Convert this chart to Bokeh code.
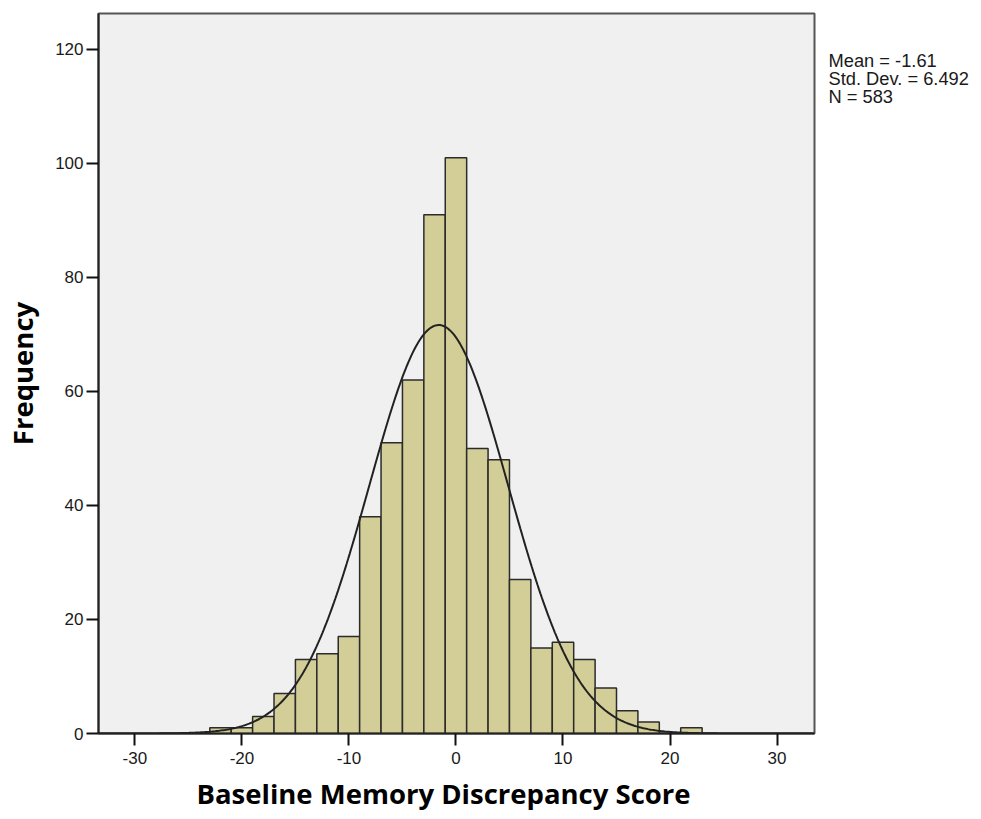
import numpy as np
from bokeh.plotting import figure
from bokeh.models import Range1d, FixedTicker, Title
from bokeh.core.properties import value
from bokeh.layouts import row
from bokeh.embed import file_html
from bokeh.resources import INLINE

# ---- data ----
bin_centers = [-22, -20, -18, -16, -14, -12, -10, -8, -6, -4, -2, 0,
               2, 4, 6, 8, 10, 12, 14, 16, 18, 20, 22]
counts = [1, 1, 3, 7, 13, 14, 17, 38, 51, 62, 91, 101,
          50, 48, 27, 15, 16, 13, 8, 4, 2, 0, 1]
bin_width = 2
stat_mean = -1.61
stat_sd = 6.492
stat_n = 583
x_ticks = [-30, -20, -10, 0, 10, 20, 30]
y_ticks = [0, 20, 40, 60, 80, 100, 120]
stat_lines = ["Mean = %.2f" % stat_mean,
              "Std. Dev. = %.3f" % stat_sd,
              "N = %d" % stat_n]

x_lo, x_hi = -33.4, 33.5
y_lo, y_hi = 0, 126.3

# fitted normal curve (from the chart's stated mean / sd / N)
curve_x = np.linspace(x_lo, x_hi, 500)
curve_y = stat_n * bin_width * np.exp(-0.5 * ((curve_x - stat_mean) / stat_sd) ** 2) / (stat_sd * np.sqrt(2 * np.pi))

H = 819
TOP, BOTTOM = 13, 86
p = figure(width=818, height=H, title=None,
           x_range=Range1d(x_lo, x_hi), y_range=Range1d(y_lo, y_hi),
           output_backend="svg", toolbar_location=None,
           min_border_left=98, min_border_top=TOP, min_border_right=4, min_border_bottom=BOTTOM,
           background_fill_color="#F0F0F0", border_fill_color="white")

p.xgrid.visible = False
p.ygrid.visible = False
p.outline_line_color = "#555555"
p.outline_line_width = 2

p.vbar(x=bin_centers, width=bin_width, top=counts, bottom=0,
       fill_color="#D3CE97", line_color="#2b2b2b", line_width=1.5)

p.line(curve_x, curve_y, line_color="#222222", line_width=2)

for ax in (p.xaxis[0], p.yaxis[0]):
    ax.axis_line_color = "#222222"
    ax.axis_line_width = 2
    ax.major_tick_line_color = "#111111"
    ax.major_tick_line_width = 2
    ax.major_tick_out = 12
    ax.major_tick_in = 0
    ax.minor_tick_line_color = None
    ax.major_label_text_font = "Liberation Sans"
    ax.major_label_text_font_size = "17px"
    ax.major_label_text_color = "#1a1a1a"

p.xaxis.ticker = FixedTicker(ticks=x_ticks)
p.yaxis.ticker = FixedTicker(ticks=y_ticks)
p.xaxis.major_label_overrides = {t: str(t) for t in x_ticks}
p.yaxis.major_label_overrides = {t: str(t) for t in y_ticks}
p.xaxis.major_label_standoff = 6
p.yaxis.major_label_standoff = 3

p.yaxis.axis_label = "Frequency"
p.yaxis.axis_label_text_font = "Open Sans"
p.yaxis.axis_label_text_font_style = "bold"
p.yaxis.axis_label_text_font_size = "27.5px"
p.yaxis.axis_label_text_color = "#000000"
p.yaxis.axis_label_standoff = 11

xtitle = Title(text="Baseline Memory Discrepancy Score", align="left", offset=98,
               standoff=13, text_font="Open Sans", text_font_style="bold",
               text_font_size="27.5px", text_color="#000000")
p.add_layout(xtitle, "below")

# statistics box to the right of the chart; its frame is aligned with the
# main frame, so the y range is given in page pixels, y downwards
S_W = 160
p2 = figure(width=S_W, height=H, title=None,
            x_range=Range1d(0, S_W), y_range=Range1d(H - BOTTOM, TOP),
            output_backend="svg", toolbar_location=None,
            x_axis_location=None, y_axis_location=None,
            min_border_left=0, min_border_right=0, min_border_top=TOP, min_border_bottom=BOTTOM,
            background_fill_color="white", border_fill_color="white")
p2.outline_line_color = None
p2.xgrid.visible = False
p2.ygrid.visible = False
p2.text(x=[10] * len(stat_lines), y=[60 + 18 * i for i in range(len(stat_lines))], text=stat_lines,
        text_font=value("Liberation Sans"), text_font_size=value("18.3px"), text_color="#1a1a1a",
        text_baseline="alphabetic", text_align="left")

layout = row(p, p2)
open("out.html", "w").write(file_html(layout, INLINE))
